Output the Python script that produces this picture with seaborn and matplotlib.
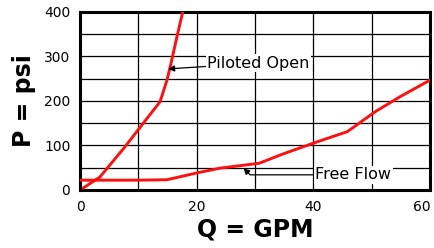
import matplotlib
matplotlib.use("Agg")
import matplotlib.pyplot as plt
import seaborn as sns
import pandas as pd

# curves
piloted_q = [0.5, 3.4, 7.7, 10.6, 13.7, 14.9, 15.6, 16.6, 17.6]
piloted_p = [4, 29, 97, 146, 198, 247, 285, 344, 400]

free_q = [0, 5, 10, 14.9, 20.6, 24, 30.7, 35, 40.6, 45.8, 50.6, 54.9, 60]
free_p = [22, 22, 22, 23, 40, 49, 60, 82, 108, 131, 176, 210, 247]

x_ticks = [0, 20, 40, 60]
y_ticks = [0, 100, 200, 300, 400]

sns.set_style("white")
plt.rcParams['font.family'] = ['DejaVu Sans']
plt.rcParams.update({"text.color": "black", "axes.labelcolor": "black",
                     "xtick.color": "black", "ytick.color": "black"})

fig = plt.figure(figsize=(4.35, 2.48), dpi=100)
ax = fig.add_axes([0.184, 0.234, 0.805, 0.718])

df_p = pd.DataFrame({"Q": piloted_q, "P": piloted_p})
df_f = pd.DataFrame({"Q": free_q, "P": free_p})
sns.lineplot(data=df_p, x="Q", y="P", ax=ax, color="#ff1010", lw=2.1, sort=False, zorder=3)
sns.lineplot(data=df_f, x="Q", y="P", ax=ax, color="#ff1010", lw=2.1, sort=False, zorder=3)

ax.set_xlim(0, 60)
ax.set_ylim(0, 400)
ax.set_xticks(range(0, 61, 10))
ax.set_yticks(range(0, 401, 50))
ax.grid(True, color="black", lw=0.9)
ax.set_xticklabels([str(v) if v in x_ticks else "" for v in range(0, 61, 10)])
ax.set_yticklabels([str(v) if v in y_ticks else "" for v in range(0, 401, 50)])
ax.tick_params(length=0, labelsize=10, pad=7)
ax.get_xticklabels()[-1].set_ha("right")
for s in ax.spines.values():
    s.set_visible(True)
    s.set_color("black")
    s.set_linewidth(2.2)

ax.set_xlabel("Q = GPM", fontsize=17, fontweight="bold", labelpad=3)
ax.set_ylabel("P = psi", fontsize=17, fontweight="bold", labelpad=6)

ax.annotate("Piloted Open", xy=(15.1, 272), xytext=(21.8, 285),
            fontsize=11.5, va="center", ha="left", zorder=4,
            bbox=dict(boxstyle="square,pad=0.1", fc="white", ec="none"),
            arrowprops=dict(arrowstyle="-|>", color="black", lw=0.9,
                            mutation_scale=9, shrinkA=0, shrinkB=0))
ax.annotate("Free Flow", xy=(28, 49), xytext=(40.3, 34),
            fontsize=11.5, va="center", ha="left", zorder=4,
            bbox=dict(boxstyle="square,pad=0.1", fc="white", ec="none"),
            arrowprops=dict(arrowstyle="-|>", color="black", lw=0.9,
                            mutation_scale=9, shrinkA=0, shrinkB=0,
                            connectionstyle="angle,angleA=0,angleB=-45,rad=0"))

fig.savefig("out.png", dpi=100)
